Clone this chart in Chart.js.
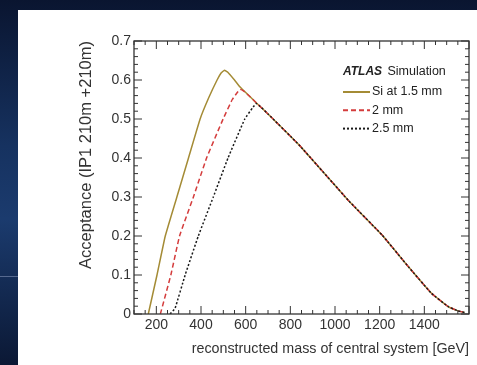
<!DOCTYPE html>
<html>
<head>
<meta charset="utf-8">
<script src="https://cdn.jsdelivr.net/npm/chart.js@4"></script>
<style>
  html, body { margin: 0; padding: 0; }
  body {
    width: 477px; height: 365px; overflow: hidden; position: relative;
    background: linear-gradient(180deg, #0a1530 0%, #163260 40%, #1b3b6e 60%, #0b1834 100%);
  }
  #panel { position: absolute; left: 18px; top: 10px; width: 459px; height: 355px; background: #fff; }
  #stripe { position: absolute; left: 0; top: 276px; width: 18px; height: 1px; background: #56698f; }
</style>
</head>
<body>
<div id="stripe"></div>
<div id="panel"><canvas id="acceptanceChart" width="459" height="355"></canvas></div>
<script>
// values (mass in GeV, acceptance)
const siMass = [164, 203, 240, 292, 344, 396, 435, 472, 490, 505, 520, 550, 575, 620, 654, 700, 840, 1062, 1210, 1329, 1432, 1507, 1551, 1580];
const siAcc  = [0, 0.1, 0.2, 0.3, 0.4, 0.5, 0.555, 0.6, 0.618, 0.625, 0.62, 0.60, 0.582, 0.557, 0.538, 0.513, 0.433, 0.29, 0.203, 0.121, 0.053, 0.019, 0.008, 0.004];

const mm2Mass = [218, 265, 304, 366, 425, 499, 540, 565, 575, 590, 620, 654, 700, 840, 1062, 1210, 1329, 1432, 1507, 1551, 1580];
const mm2Acc  = [0, 0.1, 0.2, 0.3, 0.4, 0.5, 0.55, 0.57, 0.576, 0.572, 0.557, 0.538, 0.513, 0.433, 0.29, 0.203, 0.121, 0.053, 0.019, 0.008, 0.004];

const mm25Mass = [262, 284, 329, 388, 455, 521, 596, 630, 647, 660, 700, 840, 1062, 1210, 1329, 1432, 1507, 1551, 1580];
const mm25Acc  = [0, 0.015, 0.1, 0.2, 0.3, 0.4, 0.5, 0.528, 0.54, 0.535, 0.513, 0.433, 0.29, 0.203, 0.121, 0.053, 0.019, 0.008, 0.004];

const seriesLabels = ['Si at 1.5 mm', '2 mm', '2.5 mm'];
const xTickVals = [200, 400, 600, 800, 1000, 1200, 1400];
const yTickVals = [0, 0.1, 0.2, 0.3, 0.4, 0.5, 0.6, 0.7];

const colors = ['#a48b35', '#d43c3c', '#1a1a1a'];
const dashes = [[], [5, 3], [2, 2]];

function toPoints(xs, ys) {
    return xs.map((x, i) => ({ x: x, y: ys[i] }));
}

// ROOT style frame with inward ticks on all four sides
const framePlugin = {
    id: 'frame',
    afterDraw(chart) {
        const ctx = chart.ctx;
        const a = chart.chartArea;
        const xs = chart.scales.x;
        const ys = chart.scales.y;
        ctx.save();
        ctx.strokeStyle = '#333';
        ctx.lineWidth = 1.3;
        ctx.strokeRect(a.left, a.top, a.right - a.left, a.bottom - a.top);
        ctx.lineWidth = 1;
        ctx.beginPath();
        for (let v = 100; v <= 1600; v += 50) {
            const px = xs.getPixelForValue(v);
            const len = v % 200 === 0 ? 8 : 4;
            ctx.moveTo(px, a.bottom); ctx.lineTo(px, a.bottom - len);
            ctx.moveTo(px, a.top); ctx.lineTo(px, a.top + len);
        }
        for (let i = 0; i <= 35; i++) {
            const py = ys.getPixelForValue(i * 0.02);
            const len = i % 5 === 0 ? 8 : 4;
            ctx.moveTo(a.left, py); ctx.lineTo(a.left + len, py);
            ctx.moveTo(a.right, py); ctx.lineTo(a.right - len, py);
        }
        ctx.stroke();

        // legend block
        ctx.textBaseline = 'middle';
        ctx.fillStyle = '#222';
        ctx.font = 'bold italic 12px "Liberation Sans", Arial, sans-serif';
        ctx.fillText('ATLAS', 325, 62);
        const w = ctx.measureText('ATLAS ').width;
        ctx.font = '12.5px "Liberation Sans", Arial, sans-serif';
        ctx.fillText('Simulation', 325 + w + 2, 62);
        chart.data.datasets.forEach((ds, i) => {
            const y = 82 + i * 18.3;
            ctx.beginPath();
            ctx.setLineDash(ds.borderDash || []);
            ctx.strokeStyle = ds.borderColor;
            ctx.lineWidth = 2;
            ctx.moveTo(325, y); ctx.lineTo(352, y);
            ctx.stroke();
            ctx.setLineDash([]);
            ctx.fillStyle = '#222';
            ctx.fillText(ds.label, 354, y);
        });
        ctx.restore();
    }
};

const ctx = document.getElementById('acceptanceChart').getContext('2d');
new Chart(ctx, {
    type: 'line',
    data: {
        datasets: [
            { label: seriesLabels[0], data: toPoints(siMass, siAcc) },
            { label: seriesLabels[1], data: toPoints(mm2Mass, mm2Acc) },
            { label: seriesLabels[2], data: toPoints(mm25Mass, mm25Acc) }
        ].map((ds, i) => Object.assign(ds, {
            borderColor: colors[i],
            borderDash: dashes[i],
            borderWidth: 1.5,
            pointRadius: 0,
            fill: false,
            tension: 0.1,
            order: 2 - i // black on top where the curves merge
        }))
    },
    options: {
        responsive: false,
        animation: false,
        devicePixelRatio: 1,
        layout: { padding: { top: 31, right: 8, left: 55, bottom: 3 } },
        plugins: { legend: { display: false }, tooltip: { enabled: false } },
        scales: {
            x: {
                type: 'linear',
                min: 100,
                max: 1600,
                grid: { display: false, drawTicks: false },
                border: { display: false },
                afterBuildTicks: s => { s.ticks = xTickVals.map(v => ({ value: v })); },
                afterFit: s => { s.height = 48; },
                ticks: {
                    padding: 3,
                    color: '#333',
                    font: { family: '"Liberation Sans", Arial, sans-serif', size: 14 },
                    callback: v => String(v)
                },
                title: {
                    display: true,
                    text: 'reconstructed mass of central system [GeV]',
                    align: 'end',
                    color: '#333',
                    padding: { top: 4, bottom: 4 },
                    font: { family: '"Liberation Sans", Arial, sans-serif', size: 14.3 }
                }
            },
            y: {
                min: 0,
                max: 0.7,
                grid: { display: false, drawTicks: false },
                border: { display: false },
                afterBuildTicks: s => { s.ticks = yTickVals.map(v => ({ value: v })); },
                afterFit: s => { s.width = 61; },
                ticks: {
                    padding: 3,
                    color: '#333',
                    font: { family: '"Liberation Sans", Arial, sans-serif', size: 14 },
                    callback: v => (v === 0 ? '0' : v.toFixed(1))
                },
                title: {
                    display: true,
                    text: 'Acceptance (IP1 210m +210m)',
                    align: 'end',
                    color: '#333',
                    padding: { top: 4, bottom: 4 },
                    font: { family: '"Liberation Sans", Arial, sans-serif', size: 16.5 }
                }
            }
        }
    },
    plugins: [framePlugin]
});
</script>
</body>
</html>
